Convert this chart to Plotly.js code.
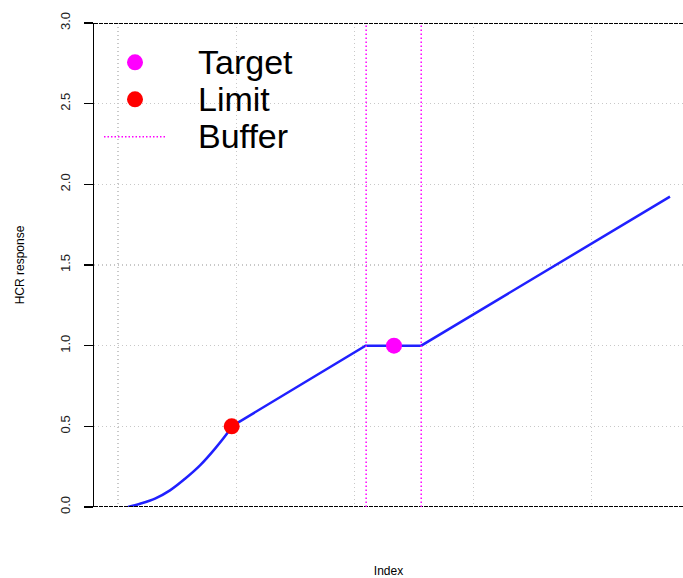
<!DOCTYPE html>
<html>
<head>
<meta charset="utf-8">
<script src="https://cdn.plot.ly/plotly-3.0.1.min.js"></script>
<style>html,body{margin:0;padding:0;background:#fff;}</style>
</head>
<body>
<div id="chart" style="width:683px;height:578px;"></div>
<script>
// ---- data ----
const xGrid = [0, 20, 40, 60, 80];
const yTicks = [0, 0.5, 1.0, 1.5, 2.0, 2.5, 3.0];
const curveX = [1.69, 3.72, 6.25, 8.78, 11.32, 13.85, 16.39, 18.63, 19.2];
const curveY = [0, 0.02, 0.052, 0.103, 0.175, 0.258, 0.362, 0.466, 0.5];
const lineX = [19.2, 41.8, 51.2, 93.2];
const lineY = [0.5, 1.0, 1.0, 1.924];
const limitX = [19.2], limitY = [0.5];
const targetX = [46.6], targetY = [1.0];
const bufferX = [41.9, 51.2];
const legendLabels = ['Target', 'Limit', 'Buffer'];

// ---- geometry helpers (pixel -> paper) ----
const L = 94, T = 23, W = 589, H = 484;
const px = p => (p - L) / W;
const py = p => (T + H - p) / H;

const blue = '#2020ff';
const traces = [
  {x: curveX, y: curveY, mode: 'lines', line: {color: blue, width: 2.5, shape: 'spline', smoothing: 1}, hoverinfo: 'skip'},
  {x: lineX, y: lineY, mode: 'lines', line: {color: blue, width: 2.5}, hoverinfo: 'skip'},
  {x: limitX, y: limitY, mode: 'markers', marker: {color: '#ff0000', size: 16}},
  {x: targetX, y: targetY, mode: 'markers', marker: {color: '#ff00ff', size: 16}}
];

const shapes = [
  {type: 'line', xref: 'paper', yref: 'y', x0: 0, x1: 1, y0: 0, y1: 0, line: {color: '#000', width: 2, dash: '4px,1px'}},
  {type: 'line', xref: 'paper', yref: 'y', x0: 0, x1: 1, y0: 3, y1: 3, line: {color: '#000', width: 2, dash: '4px,1px'}},
  // legend symbols
  {type: 'circle', xref: 'paper', yref: 'paper', xsizemode: 'pixel', ysizemode: 'pixel',
   xanchor: px(135), yanchor: py(62.3), x0: -8, x1: 8, y0: -8, y1: 8, fillcolor: '#ff00ff', line: {width: 0}},
  {type: 'circle', xref: 'paper', yref: 'paper', xsizemode: 'pixel', ysizemode: 'pixel',
   xanchor: px(135), yanchor: py(99.3), x0: -8, x1: 8, y0: -8, y1: 8, fillcolor: '#ff0000', line: {width: 0}},
  {type: 'line', xref: 'paper', yref: 'paper', x0: px(104), x1: px(165), y0: py(136.7), y1: py(136.7),
   line: {color: '#ff00ff', width: 1.5, dash: '1.5px,2px'}}
];
bufferX.forEach(b => shapes.push({type: 'line', xref: 'x', yref: 'paper', x0: b, x1: b, y0: 0, y1: 1,
  line: {color: '#ff00ff', width: 1.5, dash: '1.5px,2.5px'}}));

const legY = [62.5, 99, 136];
const annotations = legendLabels.map((t, i) => ({
  text: t, xref: 'paper', yref: 'paper', x: px(196), y: py(legY[i]), xanchor: 'left', yanchor: 'middle',
  showarrow: false, font: {size: 34, color: '#000'}
}));

const gridDash = '1px,3px';
const layout = {
  width: 683, height: 578,
  margin: {l: L, r: 0, t: T, b: 71},
  paper_bgcolor: '#fff', plot_bgcolor: '#fff',
  showlegend: false,
  font: {family: '"Liberation Sans", Arial, sans-serif', color: '#000'},
  xaxis: {
    range: [-4.05, 95.4], tickvals: xGrid, showticklabels: false, ticks: '',
    showline: false, zeroline: false, showgrid: true,
    gridcolor: '#c8c8c8', griddash: gridDash, gridwidth: 1.2,
    title: {text: 'Index', font: {size: 12}, standoff: 62}
  },
  yaxis: {
    range: [0, 3], tickvals: yTicks, tickformat: '.1f',
    ticks: 'outside', ticklen: 9, tickwidth: 1.5, tickcolor: '#000',
    showline: true, linecolor: '#000', linewidth: 1.5,
    tickangle: -90, tickfont: {size: 13, color: '#222'}, ticklabelstandoff: 8,
    showgrid: true, gridcolor: '#c8c8c8', griddash: gridDash, gridwidth: 1.2, zeroline: false,
    title: {text: 'HCR response', font: {size: 12}, standoff: 31}
  },
  shapes: shapes,
  annotations: annotations
};

Plotly.newPlot('chart', traces, layout, {displayModeBar: false, staticPlot: true});
</script>
</body>
</html>
